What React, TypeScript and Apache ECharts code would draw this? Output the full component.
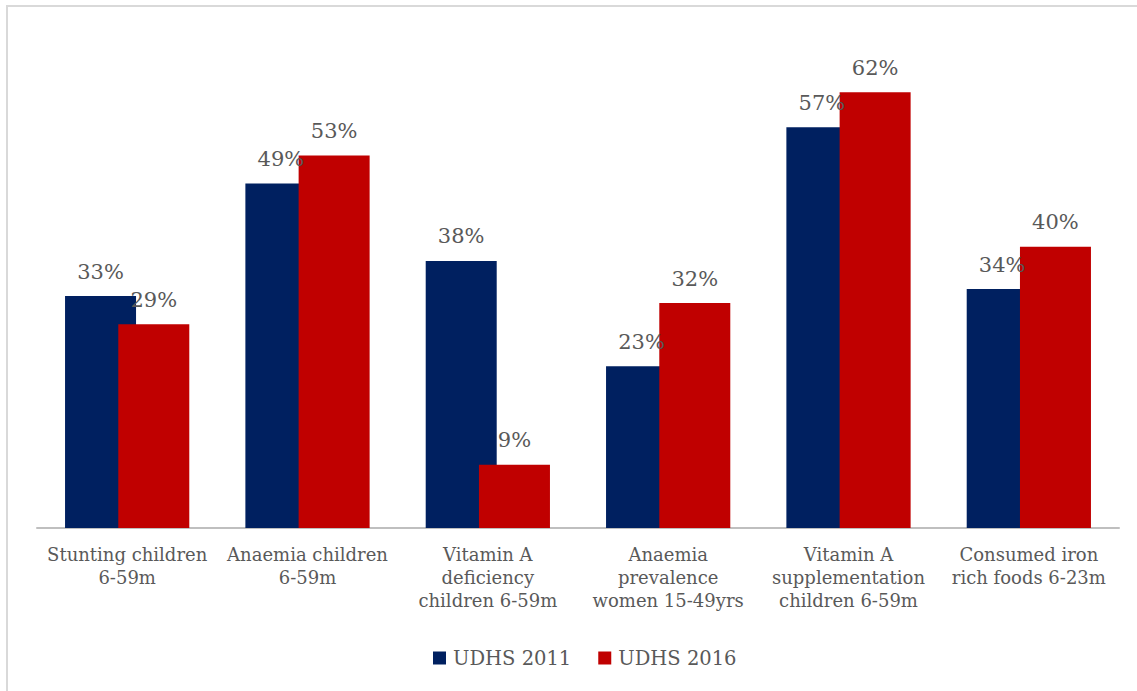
import React, { useEffect, useRef } from "react";
import * as echarts from "echarts";

const categories = [
  "Stunting children\n6-59m",
  "Anaemia children\n6-59m",
  "Vitamin A\ndeficiency\nchildren 6-59m",
  "Anaemia\nprevalence\nwomen 15-49yrs",
  "Vitamin A\nsupplementation\nchildren 6-59m",
  "Consumed iron\nrich foods 6-23m",
];
const udhs2011 = [33, 49, 38, 23, 57, 34];
const udhs2016 = [29, 53, 9, 32, 62, 40];
const seriesNames = ["UDHS 2011", "UDHS 2016"];

const FONT = "'DejaVu Serif', serif";
const TEXT = "#595959";

export default function App() {
  const ref = useRef<HTMLDivElement>(null);
  useEffect(() => {
    if (!ref.current) return;
    const chart = echarts.init(ref.current, undefined, { renderer: "svg" });
    const label = {
      show: true,
      position: "top",
      distance: 14,
      color: TEXT,
      fontFamily: FONT,
      fontSize: 21,
      formatter: (p: any) => p.value + "%",
    };
    chart.setOption({
      animation: false,
      backgroundColor: "#ffffff",
      textStyle: { fontFamily: FONT },
      grid: { left: 37, right: 18, top: 36, bottom: 163, containLabel: false },
      legend: {
        data: seriesNames,
        left: 428,
        top: 643,
        icon: "rect",
        itemWidth: 13,
        itemHeight: 13,
        itemGap: 27,
        textStyle: { color: TEXT, fontFamily: FONT, fontSize: 19.5, padding: [0, 0, 0, 2] },
      },
      xAxis: {
        type: "category",
        data: categories,
        axisLine: { show: true, lineStyle: { color: "#bfbfbf", width: 2 } },
        axisTick: { show: false },
        axisLabel: {
          interval: 0,
          margin: 15,
          color: TEXT,
          fontFamily: FONT,
          fontSize: 18,
          lineHeight: 23,
          align: "center",
          verticalAlign: "top",
        },
      },
      yAxis: {
        type: "value",
        min: 0,
        max: 70,
        show: false,
        splitLine: { show: false },
      },
      graphic: [
        { type: "line", shape: { x1: 6, y1: 6, x2: 1137, y2: 6 }, style: { stroke: "#d9d9d9", lineWidth: 2 } },
        { type: "line", shape: { x1: 7, y1: 6, x2: 7, y2: 691 }, style: { stroke: "#d9d9d9", lineWidth: 2 } },
      ],
      series: [
        {
          name: seriesNames[0],
          type: "bar",
          data: udhs2011,
          barWidth: 71,
          barGap: "-25%",
          itemStyle: { color: "#002060" },
          label,
          z: 2,
        },
        {
          name: seriesNames[1],
          type: "bar",
          data: udhs2016,
          barWidth: 71,
          itemStyle: { color: "#c00000" },
          label,
          z: 2,
        },
      ],
    });
    return () => chart.dispose();
  }, []);
  return (
    <div
      ref={ref}
      style={{ position: "fixed", left: 0, top: 0, width: 1137, height: 691 }}
    />
  );
}
